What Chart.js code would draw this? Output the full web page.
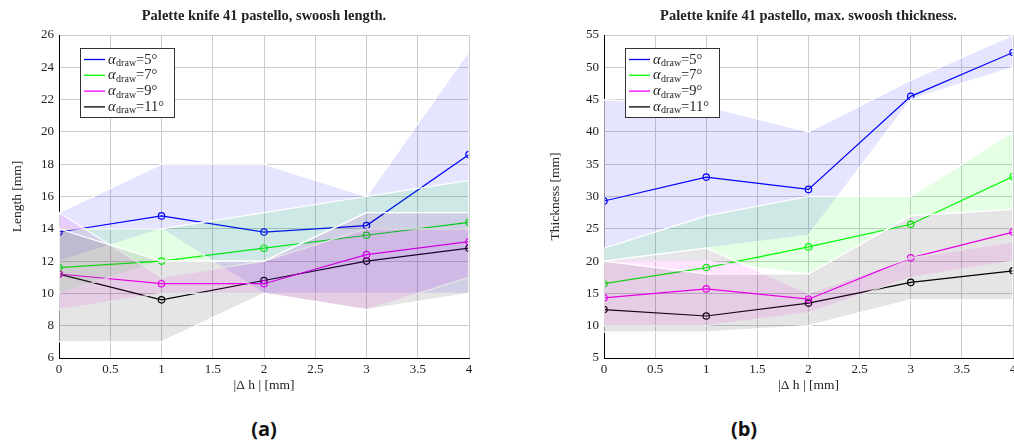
<!DOCTYPE html>
<html lang="en">
<head>
<meta charset="UTF-8">
<title>Palette knife 41 pastello</title>
<script src="https://cdn.jsdelivr.net/npm/chart.js"></script>
<style>
    html, body { margin: 0; padding: 0; background: #fff; overflow: hidden; }
    body { width: 1014px; height: 444px; position: relative; }
    canvas { position: absolute; top: 0; }
    #lengthChart { left: 0; }
    #thicknessChart { left: 507px; }
    .caption {
        position: absolute; top: 416px; width: 100px; text-align: center;
        font-family: "Open Sans", sans-serif; font-weight: bold; font-size: 20px; line-height: 26px; color: #111;
    }
</style>
</head>
<body>
<canvas id="lengthChart" width="507" height="400"></canvas>
<canvas id="thicknessChart" width="540" height="400"></canvas>
<div class="caption" style="left:214px">(a)</div>
<div class="caption" style="left:694px">(b)</div>

<script>
// steps of |delta h| in mm
const steps = [0, 1, 2, 3, 4];
const xTickLabels = ['0', '0.5', '1', '1.5', '2', '2.5', '3', '3.5', '4'];
const angles = ['5', '7', '9', '11'];
const colors = ['#0000ff', '#00ff00', '#ff00ff', '#000000'];
const bandColors = ['rgba(0,0,255,0.1)', 'rgba(0,255,0,0.1)', 'rgba(255,0,255,0.1)', 'rgba(0,0,0,0.1)'];

// swoosh length [mm]
const len5 = [13.8, 14.8, 13.8, 14.2, 18.6];
const len7 = [11.6, 12.0, 12.8, 13.6, 14.4];
const len9 = [11.2, 10.6, 10.6, 12.4, 13.2];
const len11 = [11.2, 9.6, 10.8, 12.0, 12.8];
const lenHi5 = [15, 18, 18, 16, 25];
const lenLo5 = [12, 14, 10, 10, 10];
const lenHi7 = [14, 14, 15, 16, 17];
const lenLo7 = [10, 12, 12, 15, 15];
const lenHi9 = [15, 11, 12, 14, 14];
const lenLo9 = [9, 10, 10, 9, 11];
const lenHi11 = [14, 12, 12, 15, 15];
const lenLo11 = [7, 7, 10, 9, 10];

// max swoosh thickness [mm]
const thk5 = [29.3, 33.0, 31.1, 45.5, 52.3];
const thk7 = [16.5, 19.0, 22.2, 25.7, 33.1];
const thk9 = [14.3, 15.7, 14.1, 20.5, 24.5];
const thk11 = [12.5, 11.5, 13.5, 16.7, 18.5];
const thkHi5 = [45, 44, 40, 48, 55];
const thkLo5 = [20, 22, 24, 45, 50];
const thkHi7 = [22, 27, 30, 30, 40];
const thkLo7 = [20, 20, 18, 27, 28];
const thkHi9 = [20, 22, 15, 20.5, 23];
const thkLo9 = [10, 10, 12, 17.5, 20];
const thkHi11 = [20, 18, 18, 27, 28];
const thkLo11 = [9, 9, 10, 14, 14];

const serif = '"Liberation Serif", "DejaVu Serif", serif';
const textColor = '#222';

// closed polygon: upper edge left->right, lower edge right->left
function band(hi, lo, i) {
    const pts = steps.map((x, k) => ({ x: x, y: hi[k] }));
    for (let k = steps.length - 1; k >= 0; k--) pts.push({ x: steps[k], y: lo[k] });
    pts.push({ x: steps[0], y: hi[0] });
    return {
        data: pts,
        fill: 'shape',
        backgroundColor: bandColors[i],
        borderColor: '#ffffff',
        borderWidth: 1.2,
        pointRadius: 0,
        tension: 0,
        order: 4 - i
    };
}

function meanLine(vals, i) {
    return {
        data: steps.map((x, k) => ({ x: x, y: vals[k] })),
        fill: false,
        borderColor: colors[i],
        borderWidth: 1.2,
        pointRadius: 3.2,
        pointBorderWidth: 1.2,
        pointBackgroundColor: 'rgba(0,0,0,0)',
        pointBorderColor: colors[i],
        tension: 0,
        order: 10 + i
    };
}

const alphaLegend = {
    id: 'alphaLegend',
    afterDraw(chart) {
        const { ctx, chartArea } = chart;
        const x0 = Math.round(chartArea.left) + 21, y0 = Math.round(chartArea.top) + 13;
        ctx.save();
        ctx.fillStyle = '#fff';
        ctx.fillRect(x0, y0, 94, 69);
        ctx.strokeStyle = '#333';
        ctx.lineWidth = 1;
        ctx.strokeRect(x0 + 0.5, y0 + 0.5, 94, 69);
        angles.forEach((a, i) => {
            const y = y0 + 11.5 + i * 15.8;
            ctx.strokeStyle = colors[i];
            ctx.lineWidth = 1.3;
            ctx.beginPath();
            ctx.moveTo(x0 + 4, y);
            ctx.lineTo(x0 + 25, y);
            ctx.stroke();
            ctx.fillStyle = textColor;
            ctx.textBaseline = 'alphabetic';
            let tx = x0 + 28;
            ctx.font = 'italic 14.5px ' + serif;
            ctx.fillText('α', tx, y + 4);
            tx += ctx.measureText('α').width + 0.5;
            ctx.font = '10px ' + serif;
            ctx.fillText('draw', tx, y + 6.5);
            tx += ctx.measureText('draw').width;
            ctx.font = '14.5px ' + serif;
            ctx.fillText('=' + a + '°', tx, y + 4);
        });
        ctx.restore();
    }
};

function makeChart(id, title, yTitle, yMin, yMax, yStep, means, his, los, axisW, yTitlePad, rightPad) {
    const datasets = [];
    for (let i = 0; i < 4; i++) datasets.push(band(his[i], los[i], i));
    for (let i = 0; i < 4; i++) datasets.push(meanLine(means[i], i));
    return new Chart(document.getElementById(id), {
        type: 'line',
        data: { datasets: datasets },
        options: {
            responsive: false,
            animation: false,
            layout: { padding: { left: 0, right: rightPad, top: 0, bottom: 0 } },
            plugins: {
                legend: { display: false },
                tooltip: { enabled: false },
                title: {
                    display: true, text: title, fullSize: false, color: textColor,
                    font: { family: serif, size: 14.5, weight: 'bold', lineHeight: 1.2 },
                    padding: { top: 7.3, bottom: 10.3 }
                }
            },
            scales: {
                x: {
                    type: 'linear', min: 0, max: 4,
                    ticks: {
                        stepSize: 0.5, padding: 4, color: textColor, maxRotation: 0,
                        font: { family: serif, size: 13 },
                        callback: v => xTickLabels[Math.round(v * 2)]
                    },
                    grid: { color: '#cccccc', drawTicks: false },
                    border: { color: '#000', width: 1 },
                    title: {
                        display: true, text: '|Δ h | [mm]', color: textColor,
                        font: { family: serif, size: 13.5 }, padding: { top: 0, bottom: 6 }
                    },
                    afterFit: s => { s.height = 42; }
                },
                y: {
                    min: yMin, max: yMax,
                    ticks: { stepSize: yStep, padding: 5, color: textColor, font: { family: serif, size: 13 } },
                    grid: { color: '#cccccc', drawTicks: false },
                    border: { color: '#000', width: 1 },
                    title: {
                        display: true, text: yTitle, color: textColor,
                        font: { family: serif, size: 13.5 }, padding: { top: yTitlePad, bottom: 0 }
                    },
                    afterFit: s => { s.width = axisW; }
                }
            }
        },
        plugins: [alphaLegend]
    });
}

makeChart('lengthChart', 'Palette knife 41 pastello, swoosh length.', 'Length [mm]', 6, 26, 2,
    [len5, len7, len9, len11], [lenHi5, lenHi7, lenHi9, lenHi11], [lenLo5, lenLo7, lenLo9, lenLo11],
    59, 9, 38);

makeChart('thicknessChart', 'Palette knife 41 pastello, max. swoosh thickness.', 'Thickness [mm]', 5, 55, 5,
    [thk5, thk7, thk9, thk11], [thkHi5, thkHi7, thkHi9, thkHi11], [thkLo5, thkLo7, thkLo9, thkLo11],
    97, 40, 34);
</script>
</body>
</html>
